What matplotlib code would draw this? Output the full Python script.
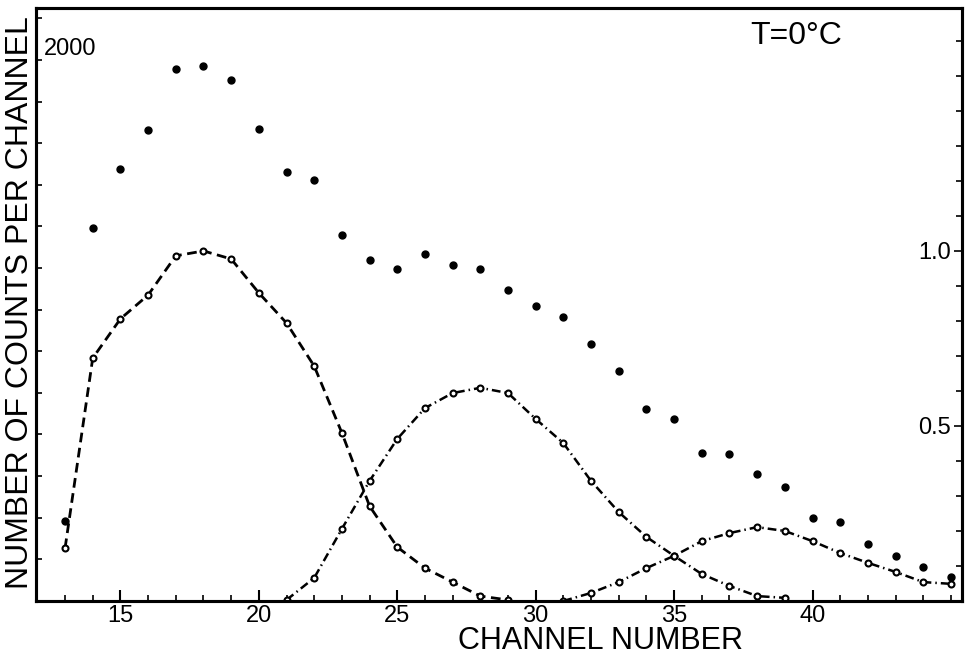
import matplotlib
matplotlib.use("Agg")
import matplotlib.pyplot as plt
from matplotlib.ticker import MultipleLocator

# total counts (filled dots), channels 13..45
total_channels = list(range(13, 46))
total_counts = [288, 1344, 1557, 1697, 1917, 1928, 1877, 1701, 1546, 1517,
                1319, 1229, 1196, 1250, 1211, 1196, 1121, 1063, 1023, 926,
                829, 692, 656, 533, 530, 458, 411, 299, 285, 205,
                162, 123, 86]

# fitted components (open circles), normalised scale
comp1_channels = list(range(13, 30))
comp1_values = [0.151, 0.694, 0.806, 0.874, 0.986, 1.000, 0.977, 0.880, 0.794,
                0.671, 0.480, 0.271, 0.154, 0.094, 0.054, 0.014, 0.003]

comp2_channels = list(range(21, 40))
comp2_values = [0.003, 0.066, 0.206, 0.343, 0.463, 0.551, 0.594, 0.609, 0.594,
                0.520, 0.451, 0.343, 0.254, 0.183, 0.129, 0.077, 0.043, 0.014,
                0.009]

comp3_channels = list(range(31, 46))
comp3_values = [0.0, 0.023, 0.054, 0.094, 0.129, 0.171, 0.194, 0.211, 0.200,
                0.171, 0.137, 0.109, 0.083, 0.054, 0.049]

plt.rcParams['font.family'] = ['Liberation Sans', 'DejaVu Sans']

fig = plt.figure(figsize=(9.65, 6.6), dpi=100)
ax = fig.add_axes([0.0373, 0.0894, 0.9596, 0.8985])
ax2 = ax.twinx()

ax.plot(total_channels, total_counts, 'o', color='black', markersize=5)

ax2.plot(comp1_channels, comp1_values, color='black', lw=2, dashes=(3.5, 2),
         marker='o', markersize=4.3, markerfacecolor='white', markeredgewidth=1.5)
ax2.plot(comp2_channels, comp2_values, color='black', lw=1.8, dashes=(3.5, 1.6, 0.6, 1.6),
         marker='o', markersize=4.3, markerfacecolor='white', markeredgewidth=1.5)
ax2.plot(comp3_channels, comp3_values, color='black', lw=1.8, dashes=(3.5, 1.6, 0.6, 1.6),
         marker='o', markersize=4.3, markerfacecolor='white', markeredgewidth=1.5)

ax.set_xlim(11.95, 45.4)
ax.set_ylim(0, 2137)
ax2.set_ylim(0, 1.694)

ax.set_xticks([15, 20, 25, 30, 35, 40])
ax.xaxis.set_minor_locator(MultipleLocator(1))
ax.tick_params(axis='x', which='major', direction='in', length=8, width=1.5,
               labelsize=17, pad=3)
ax.tick_params(axis='x', which='minor', direction='in', length=4, width=1.2)

ax.set_yticks([2000])
ax.set_yticklabels(['2000'])
ax.yaxis.set_minor_locator(MultipleLocator(150))
ax.tick_params(axis='y', which='major', direction='in', length=0, labelsize=17, pad=-6)
ax.tick_params(axis='y', which='minor', direction='in', length=4, width=1.2)
for lab in ax.get_yticklabels():
    lab.set_horizontalalignment('left')

ax2.set_yticks([0.5, 1.0])
ax2.set_yticklabels(['0.5', '1.0'])
ax2.yaxis.set_minor_locator(MultipleLocator(0.1))
ax2.tick_params(axis='y', which='major', direction='in', length=6, width=1.2,
                labelsize=17, pad=-8)
ax2.tick_params(axis='y', which='minor', direction='in', length=4, width=1.2)
for lab in ax2.get_yticklabels():
    lab.set_horizontalalignment('right')

for a in (ax, ax2):
    for s in a.spines.values():
        s.set_linewidth(2.2)

fig.text(0.021, 0.542, 'NUMBER OF COUNTS PER CHANNEL', rotation=90,
         ha='center', va='center', fontsize=23)
fig.text(0.622, 0.029, 'CHANNEL NUMBER', ha='center', va='center', fontsize=22)
fig.text(0.825, 0.945, 'T=0°C', ha='center', va='center', fontsize=23)

fig.savefig('out.png', dpi=100)
